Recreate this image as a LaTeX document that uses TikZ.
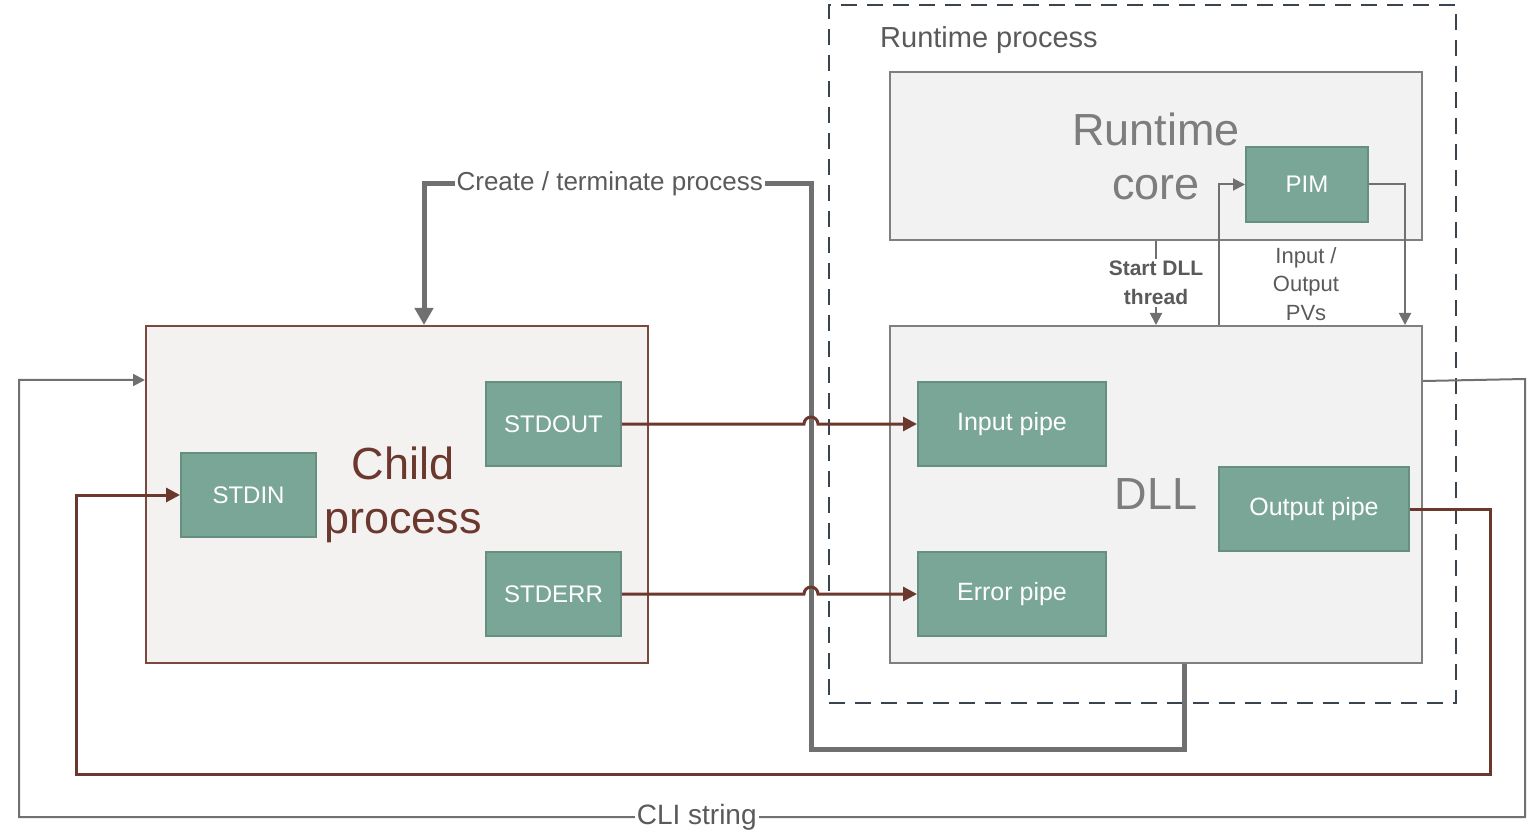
\documentclass[tikz,border=0pt]{standalone}
\usepackage{fontspec}
\setmainfont{Liberation Sans}
\usepackage{tikz}
\usetikzlibrary{positioning}
\usetikzlibrary{arrows.meta,calc}

\definecolor{pipefill}{RGB}{122,166,152}
\definecolor{pipeedge}{RGB}{100,143,129}
\definecolor{boxfill}{RGB}{242,242,242}
\definecolor{boxedge}{RGB}{127,127,127}
\definecolor{childfill}{RGB}{244,241,241}
\definecolor{childedge}{RGB}{122,72,62}
\definecolor{brownline}{RGB}{108,56,46}
\definecolor{greyline}{RGB}{112,112,112}
\definecolor{greytext}{RGB}{125,125,125}
\definecolor{darktext}{RGB}{90,90,90}
\definecolor{dashcol}{RGB}{58,68,78}

\begin{document}
\begin{tikzpicture}
          [x=0.5pt, y=-0.5pt,
           pipe/.style={draw=pipeedge, line width=1pt, fill=pipefill, text=white,
             font=\fontsize{12.5}{15}\selectfont, minimum height=42pt, inner sep=0pt},
           bigbox/.style={draw=boxedge, line width=1pt, fill=boxfill, text=greytext,
             align=center, font=\fontsize{22.5}{27}\selectfont, inner sep=0pt},
           childbox/.style={bigbox, draw=childedge, fill=childfill, text=brownline},
           thickline/.style={draw=greyline, line width=2.5pt, -{Triangle[length=8.5pt, width=9pt]}},
           brownarrow/.style={draw=brownline, line width=1.5pt, -{Triangle[length=7pt, width=7pt]}},
           thinline/.style={draw=greyline, line width=1pt, -{Triangle[length=6pt, width=6pt]}},
           lbl/.style={fill=white, inner sep=1pt, text=darktext, align=center}]
          \useasboundingbox (0,0) rectangle (1530,839);

          % runtime side
          \node (rtproc) [draw=dashcol, line width=1.2pt, dash pattern=on 8pt off 5pt,
            minimum width=313.5pt, minimum height=349pt, inner sep=0pt] at (1142.5,354) {};
          \node (rtname) [anchor=west, inner sep=0pt, text=darktext, font=\fontsize{14.5}{17}\selectfont]
            at ([xshift=26pt, yshift=-18pt]rtproc.north west) {Runtime process};
          \node (rtcore) [bigbox, minimum width=266pt, minimum height=84pt] at (1156,156) {Runtime\\core};
          \node (pim) [pipe, minimum width=61pt, minimum height=37.5pt, font=\fontsize{12}{14}\selectfont] at (1307,184.5) {PIM};
          \node (dll) [bigbox, minimum width=266pt, minimum height=168.5pt] at (1156,494.5) {DLL};
          \node (inpipe) [pipe, minimum width=94pt] at (1012,424) {Input pipe};
          \node (errpipe) [pipe, minimum width=94pt, below=42pt of inpipe] {Error pipe};
          \node (outpipe) [pipe, minimum width=95pt] at (1314,509) {Output pipe};

          % child side
          \node (child) [childbox, minimum width=251pt, minimum height=168.5pt] at (397,494.5) {};
          \node (childtxt) [text=brownline, align=center, inner sep=0pt, font=\fontsize{22.5}{27}\selectfont] at (403,495) {Child\\process};
          \node (stdin) [pipe, minimum width=67.5pt, font=\fontsize{12}{14}\selectfont] at (248.5,495) {STDIN};
          \node (stdout) [pipe, minimum width=67.5pt, font=\fontsize{12}{14}\selectfont] at (553.5,424) {STDOUT};
          \node (stderr) [pipe, minimum width=67.5pt, font=\fontsize{12}{14}\selectfont, below=42pt of stdout] {STDERR};

          \node (pvs) [text=darktext, align=center, font=\fontsize{11}{14.25}\selectfont] at (1306,284) {Input /\\Output\\PVs};

          \coordinate (vx) at (811,184);
          \coordinate (ctl) at (424,184);
          \coordinate (loopR) at (1490,774);
          \coordinate (loopL) at (76,774);
          \coordinate (cliR) at (1525,379);
          \coordinate (cliL) at (19,817);

          % create / terminate
          \draw[thickline] ([xshift=14pt]dll.south) -- ++(0,85) -| (vx)
            -- node[lbl, pos=0.52, font=\fontsize{13}{15}\selectfont] {Create / terminate process} (ctl)
            -- (child.north -| ctl);

          \draw[thinline] (rtcore.south) -- node[lbl, font=\bfseries\fontsize{10.5}{14.5}\selectfont] {Start DLL\\thread} (rtcore.south |- dll.north);
          \draw[thinline] ([xshift=31.5pt]dll.north) |- (pim.west);
          \draw[thinline] (pim.east) -| ([xshift=124.5pt]dll.north);

          % pipes
          \draw[brownarrow] (stdout.east) -- ($(stdout.east -| vx)+(-7,0)$)
            arc[start angle=180, end angle=0, radius=3.5pt] -- (inpipe.west);
          \draw[brownarrow] (stderr.east) -- ($(stderr.east -| vx)+(-7,0)$)
            arc[start angle=180, end angle=0, radius=3.5pt] -- (errpipe.west);
          \draw[brownarrow] (outpipe.east) -| (loopR) -- (loopL) |- (stdin.west);

          % cli string
          \draw[thinline] ([yshift=-28pt]dll.north east) -- (cliR)
            |- node[lbl, pos=0.775, font=\fontsize{14}{16}\selectfont] {CLI string} (cliL)
            |- ([yshift=-27.5pt]child.north west);

        \end{tikzpicture}
\end{document}
